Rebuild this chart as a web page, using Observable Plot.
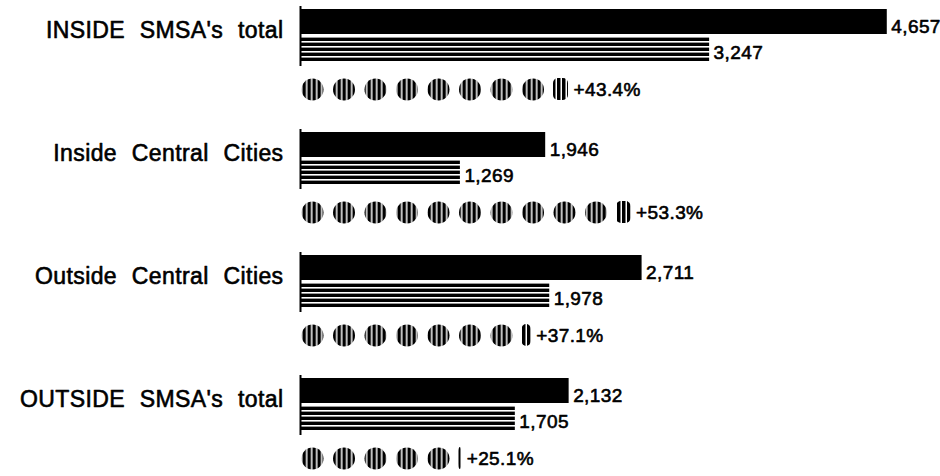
<!DOCTYPE html>
<html>
<head>
<meta charset="utf-8">
<script src="https://cdn.jsdelivr.net/npm/d3@7"></script>
<script src="https://cdn.jsdelivr.net/npm/@observablehq/plot@0.6"></script>
<style>
  html, body { margin: 0; padding: 0; background: #fff; }
  #chart svg { display: block; }
</style>
</head>
<body>
<div id="chart"></div>
<script>
// ---- data ----
const categories = ["INSIDE SMSA's total", "Inside Central Cities", "Outside Central Cities", "OUTSIDE SMSA's total"];
const laterValues = [4657, 1946, 2711, 2132];     // solid black bars
const earlierValues = [3247, 1269, 1978, 1705];   // horizontally striped bars
const percentChange = [43.4, 53.3, 37.1, 25.1];   // pictogram rows
const percentPerSymbol = 5;                        // one striped disc = 5 %

// ---- layout ----
const W = 940, H = 476;
const ML = 300, MR = 10;
const xMax = 5000;
const unitsPerPx = xMax / (W - ML - MR);
const symbolStep = 31.5 * unitsPerPx;   // spacing of the discs
const symbolR = 11;                      // disc radius, px
const symbolRUnits = symbolR * unitsPerPx;
const font = "'Liberation Sans', Arial, Helvetica, sans-serif";

// ---- tables built from the arrays ----
const bars = categories.flatMap((c, i) => [
  {category: c, row: "later", value: laterValues[i]},
  {category: c, row: "earlier", value: earlierValues[i]}
]);
const labels = categories.map(c => ({category: c, row: "later"}));
const symbols = categories.flatMap((c, i) => {
  const n = Math.floor(percentChange[i] / percentPerSymbol);
  return d3.range(n).map(k => ({category: c, row: "change", k}));
});
const partials = categories.map((c, i) => {
  const q = percentChange[i] / percentPerSymbol;
  const n = Math.floor(q);
  const frac = Math.max(q - n, 0.12);
  const x1 = n * symbolStep - symbolRUnits;
  return {category: c, row: "change", x1, x2: x1 + frac * 2 * symbolRUnits, pct: percentChange[i]};
});

const textStyle = {fill: "#000", stroke: "#000", strokeWidth: 0.6, fontFamily: font};

const chart = Plot.plot({
  width: W,
  height: H,
  marginLeft: ML,
  marginRight: MR,
  marginTop: 8,
  marginBottom: 19,
  style: `background: #fff; font-family: ${font}; word-spacing: 8px; letter-spacing: 0.4px;`,
  x: {domain: [0, xMax], axis: null},
  y: {domain: ["later", "earlier", "change"], axis: null, padding: 0},
  fy: {domain: categories, axis: null, paddingInner: 0.369, paddingOuter: 0},
  marks: [
    // solid bars
    Plot.barX(bars.filter(d => d.row === "later"), {
      x: "value", y: "row", fy: "category", fill: "#000", insetTop: 0, insetBottom: 1
    }),
    // striped bars
    Plot.barX(bars.filter(d => d.row === "earlier"), {
      x: "value", y: "row", fy: "category", fill: "url(#hstripe)", insetTop: 1, insetBottom: 0
    }),
    // baseline
    Plot.tickX(labels, {x: 0, y: () => "later", fy: "category", stroke: "#000", strokeWidth: 2, insetTop: -3}),
    Plot.tickX(labels, {x: 0, y: () => "earlier", fy: "category", stroke: "#000", strokeWidth: 2, insetBottom: -5}),
    // category labels
    Plot.text(labels, {
      x: 0, y: "row", fy: "category", text: "category", textAnchor: "end",
      dx: -17, dy: 8, fontSize: 23, ...textStyle
    }),
    // value labels
    Plot.text(bars, {
      x: "value", y: "row", fy: "category", text: d => d3.format(",")(d.value),
      textAnchor: "start", dx: 4, dy: 4, fontSize: 19, ...textStyle
    }),
    // pictogram discs
    Plot.dot(symbols, {
      x: d => d.k * symbolStep, y: "row", fy: "category", r: symbolR,
      fill: "url(#vstripe)", stroke: "none", dx: 12, dy: 15
    }),
    // partial disc
    Plot.barX(partials, {
      x1: "x1", x2: "x2", y: "row", fy: "category", fill: "url(#vstripe)",
      insetTop: 2, insetBottom: 2, rx: 5, dx: 12, dy: 15
    }),
    // percent labels
    Plot.text(partials, {
      x: "x2", y: "row", fy: "category", text: d => `+${d.pct.toFixed(1)}%`,
      textAnchor: "start", dx: 17, dy: 15, fontSize: 19, ...textStyle
    })
  ]
});

// patterns used as fills
const defs = d3.select(chart).insert("defs", ":first-child");
const hs = defs.append("pattern").attr("id", "hstripe").attr("patternUnits", "userSpaceOnUse")
  .attr("width", 10).attr("height", 5);
hs.append("rect").attr("width", 10).attr("height", 5).attr("fill", "#fff");
hs.append("rect").attr("y", 1.6).attr("width", 10).attr("height", 3.4).attr("fill", "#000");
const vs = defs.append("pattern").attr("id", "vstripe").attr("patternUnits", "userSpaceOnUse")
  .attr("width", 5).attr("height", 10);
vs.append("rect").attr("width", 5).attr("height", 10).attr("fill", "#000");
vs.append("rect").attr("x", 3.5).attr("width", 1.5).attr("height", 10).attr("fill", "#fff");

document.getElementById("chart").appendChild(chart);
</script>
</body>
</html>
